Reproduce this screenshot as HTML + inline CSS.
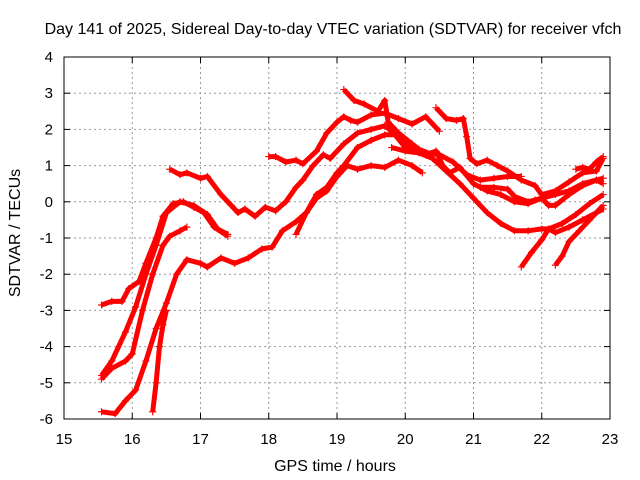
<!DOCTYPE html>
<html><head><meta charset="utf-8"><style>
body{margin:0;background:#fff;}
svg{display:block;font-family:"Liberation Sans",sans-serif;}
</style></head><body>
<svg id="chart" width="640" height="480" viewBox="0 0 640 480">
<rect width="640" height="480" fill="#fff"/>
<g id="grid"></g>
<g id="ticks"></g>
<g id="series"></g>
<rect x="64" y="57" width="546" height="362" fill="none" stroke="#000" stroke-width="1"/>
<text x="333" y="34" font-size="16" text-anchor="middle">Day 141 of 2025, Sidereal Day-to-day VTEC variation (SDTVAR) for receiver vfch</text>
<text x="335" y="471" font-size="16" text-anchor="middle">GPS time / hours</text>
<text transform="translate(20,233) rotate(-90)" font-size="16" text-anchor="middle">SDTVAR / TECUs</text>
</svg>
<script>
const xTicks=[15,16,17,18,19,20,21,22,23];
const yTicks=[4,3,2,1,0,-1,-2,-3,-4,-5,-6];
const sA=[[15.55,-2.85],[15.7,-2.75],[15.85,-2.75],[15.95,-2.4],[16.1,-2.2],[16.2,-1.7],[16.35,-1.0],[16.45,-0.4],[16.6,-0.05],[16.75,0.0],[16.9,-0.15],[17.05,-0.3],[17.2,-0.7],[17.4,-0.95]];
const sB=[[15.55,-4.8],[15.7,-4.4],[15.9,-3.6],[16.05,-2.9],[16.2,-2.0],[16.35,-1.2],[16.5,-0.3],[16.7,0.0],[16.9,-0.1],[17.1,-0.35],[17.25,-0.75],[17.4,-0.9]];
const sC=[[15.55,-4.9],[15.7,-4.6],[15.9,-4.4],[16.0,-4.2],[16.15,-3.0],[16.3,-2.0],[16.45,-1.2],[16.55,-0.95],[16.7,-0.8],[16.8,-0.7]];
const sD=[[15.55,-5.8],[15.75,-5.85],[15.9,-5.5],[16.05,-5.2],[16.2,-4.4],[16.35,-3.5],[16.5,-2.8],[16.65,-2.0],[16.8,-1.6],[17.0,-1.7],[17.1,-1.8],[17.3,-1.55],[17.5,-1.7],[17.7,-1.55],[17.9,-1.3],[18.05,-1.25],[18.2,-0.8],[18.4,-0.55],[18.55,-0.3],[18.7,0.2],[18.85,0.4],[19.0,0.8],[19.1,1.0],[19.3,1.5],[19.5,1.7],[19.7,1.85],[19.85,1.85],[20.0,1.5],[20.2,1.45],[20.4,1.3]];
const sE=[[16.3,-5.8],[16.35,-5.0],[16.4,-4.0],[16.45,-3.4],[16.5,-3.0]];
const sF=[[16.55,0.9],[16.7,0.75],[16.8,0.8],[17.0,0.65],[17.1,0.7],[17.3,0.2],[17.45,-0.1],[17.55,-0.3],[17.65,-0.2],[17.8,-0.4],[17.95,-0.15],[18.1,-0.25],[18.25,0.0],[18.4,0.4],[18.5,0.6],[18.65,1.0],[18.8,1.3],[18.9,1.2],[19.1,1.6],[19.3,1.9],[19.5,2.0],[19.7,2.1],[19.9,1.8],[20.1,1.4],[20.3,1.35],[20.5,1.3],[20.7,1.1],[20.9,0.75],[21.1,0.6],[21.3,0.65],[21.5,0.7],[21.7,0.7]];
const sG=[[18.0,1.25],[18.1,1.25],[18.25,1.1],[18.4,1.15],[18.5,1.05],[18.7,1.4],[18.85,1.9],[19.0,2.2],[19.1,2.35],[19.2,2.25],[19.3,2.2],[19.5,2.4],[19.7,2.45],[19.9,2.3],[20.1,2.15],[20.3,2.35],[20.5,1.95]];
const sH=[[18.4,-0.9],[18.55,-0.3],[18.7,0.1],[18.85,0.3],[19.0,0.7],[19.15,1.0],[19.3,0.9],[19.5,1.0],[19.7,0.95],[19.9,1.15],[20.1,1.0],[20.25,0.8]];
const sI=[[19.1,3.1],[19.25,2.8],[19.4,2.7],[19.6,2.5],[19.7,2.8],[19.75,2.2],[19.9,1.9],[20.1,1.6],[20.3,1.3],[20.45,1.4],[20.55,1.0],[20.65,0.8],[20.8,0.95],[21.0,0.5],[21.2,0.3],[21.4,0.2],[21.6,0.0],[21.8,-0.05],[22.0,0.1],[22.2,0.2],[22.4,0.3],[22.6,0.5],[22.8,0.6],[22.9,0.5]];
const sJ=[[20.45,2.6],[20.6,2.3],[20.75,2.25],[20.85,2.3],[20.9,1.8],[20.95,1.2],[21.05,1.05],[21.2,1.15],[21.35,1.0],[21.5,0.85],[21.7,0.6],[21.9,0.45],[22.0,0.2],[22.2,0.3],[22.4,0.55],[22.6,0.8],[22.8,0.85],[22.9,1.2]];
const sK=[[19.8,1.5],[20.0,1.4],[20.2,1.35],[20.4,1.2],[20.6,0.85],[20.8,0.5],[21.0,0.1],[21.2,-0.3],[21.4,-0.6],[21.6,-0.8],[21.8,-0.8],[22.0,-0.75],[22.1,-0.75],[22.2,-0.85],[22.4,-0.7],[22.6,-0.5],[22.8,-0.3],[22.9,-0.2]];
const sL=[[21.1,0.4],[21.3,0.4],[21.5,0.35],[21.6,0.15],[21.8,0.0],[21.9,0.05],[22.0,0.1],[22.1,-0.1],[22.2,-0.1],[22.4,0.2],[22.6,0.45],[22.8,0.6],[22.9,0.65]];
const sM=[[21.7,-1.8],[21.85,-1.4],[22.0,-1.05],[22.1,-0.75],[22.3,-0.6],[22.5,-0.35],[22.7,-0.05],[22.9,0.2]];
const sN=[[22.2,-1.75],[22.3,-1.5],[22.4,-1.1],[22.55,-0.8],[22.7,-0.5],[22.9,-0.1]];
const sO=[[22.5,0.9],[22.6,0.95],[22.7,0.9],[22.8,1.1],[22.9,1.25]];
const allSeries=[sA,sB,sC,sD,sE,sF,sG,sH,sI,sJ,sK,sL,sM,sN,sO];

const NS="http://www.w3.org/2000/svg";
const L=64,R=610,T=57,B=419;
function xs(v){return L+(v-15)/(23-15)*(R-L);}
function ys(v){return T+(4-v)/(4-(-6))*(B-T);}
function mk(tag,attrs,parent){const e=document.createElementNS(NS,tag);for(const k in attrs)e.setAttribute(k,attrs[k]);parent.appendChild(e);return e;}
const grid=document.getElementById('grid'),ticks=document.getElementById('ticks'),ser=document.getElementById('series');
xTicks.forEach(v=>{const x=xs(v);
 if(v>15&&v<23){const g=mk('line',{x1:x,y1:T,x2:x,y2:B,stroke:'#999','stroke-dasharray':'2,3','stroke-width':1},grid);}
 const t=mk('line',{x1:x,y1:B,x2:x,y2:B-6,stroke:'#000'},ticks);
 const t2=mk('line',{x1:x,y1:T,x2:x,y2:T+6,stroke:'#000'},ticks);
 const lb=mk('text',{x:x,y:444,'font-size':15,'text-anchor':'middle'},ticks);lb.textContent=v;});
yTicks.forEach(v=>{const y=ys(v);
 if(v<4&&v>-6){const g=mk('line',{x1:L,y1:y,x2:R,y2:y,stroke:'#999','stroke-dasharray':'2,3','stroke-width':1},grid);}
 const t=mk('line',{x1:L,y1:y,x2:L+6,y2:y,stroke:'#000'},ticks);
 const t2=mk('line',{x1:R,y1:y,x2:R-6,y2:y,stroke:'#000'},ticks);
 const lb=mk('text',{x:53,y:y+5,'font-size':15,'text-anchor':'end'},ticks);lb.textContent=v;});
allSeries.forEach((s,i)=>{
 const pts=s.map(p=>xs(p[0]).toFixed(1)+','+ys(p[1]).toFixed(1)).join(' ');
 const pl=mk('polyline',{points:pts,fill:'none',stroke:'#f00','stroke-width':5,'stroke-linejoin':'round','stroke-linecap':'butt'},ser);
 
 
 s.forEach(p=>{const x=xs(p[0]),y=ys(p[1]);
  const m=mk('path',{d:`M${x-3.5},${y}h7M${x},${y-3.5}v7`,stroke:'#f00','stroke-width':1.2},ser);
  
  });
});
</script>
</body></html>
